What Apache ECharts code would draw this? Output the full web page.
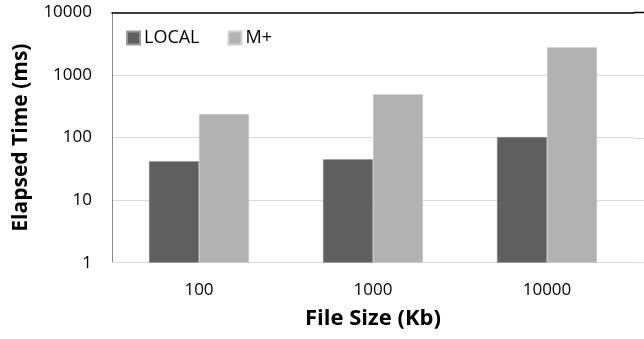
<!DOCTYPE html>
<html>
<head>
<meta charset="utf-8">
<script src="https://cdn.jsdelivr.net/npm/echarts@6/dist/echarts.min.js"></script>
<style>html,body{margin:0;padding:0;background:#fff}#c{width:644px;height:339px}</style>
</head>
<body>
<div id="c"></div>
<script>
var categories = ['100', '1000', '10000'];
var localValues = [42, 45, 102];
var mplusValues = [238, 492, 2780];
var seriesNames = ['LOCAL', 'M+'];
var yTicks = [1, 10, 100, 1000, 10000];

var FONT = '"Open Sans", "Liberation Sans", sans-serif';
var chart = echarts.init(document.getElementById('c'));
var grid = {left: 112, top: 12.5, right: 10, bottom: 76.3, containLabel: false, outerBoundsMode: 'none'};
chart.setOption({
  animation: false,
  backgroundColor: '#fff',
  textStyle: {fontFamily: FONT},
  grid: grid,
  legend: {
    left: 121, top: 24, itemWidth: 13, itemHeight: 13, itemGap: 28,
    icon: 'rect',
    textStyle: {fontFamily: FONT, fontSize: 18, color: '#000', padding: [0, 0, 0, -1]},
    data: seriesNames
  },
  xAxis: [{
    type: 'category', data: categories,
    axisLine: {lineStyle: {color: '#d9d9d9', width: 1}},
    axisTick: {show: false},
    axisLabel: {fontFamily: FONT, fontSize: 17, color: '#000', margin: 19},
    name: 'File Size (Kb)', nameLocation: 'middle', nameGap: 45,
    nameTextStyle: {fontFamily: FONT, fontSize: 22, fontWeight: 'bold', color: '#000'}
  }, {
    type: 'category', data: categories, position: 'top',
    axisLine: {lineStyle: {color: '#000', width: 1.5}},
    axisTick: {show: false}, axisLabel: {show: false}
  }],
  yAxis: {
    type: 'log', logBase: 10, min: yTicks[0], max: yTicks[yTicks.length - 1],
    axisLine: {show: true, lineStyle: {color: '#868686'}},
    axisTick: {show: false},
    splitLine: {lineStyle: {color: '#d9d9d9', width: 1}},
    axisLabel: {fontFamily: FONT, fontSize: 17, color: '#000', margin: 20,
      formatter: function (v) { return String(Math.round(v)); }},
    name: 'Elapsed Time (ms)', nameLocation: 'middle', nameGap: 80, nameRotate: 90,
    nameTextStyle: {fontFamily: FONT, fontSize: 21, fontWeight: 'bold', color: '#000'}
  },
  series: [{
    name: seriesNames[0], type: 'bar', data: localValues,
    barGap: '0%', barCategoryGap: '42.5%',
    itemStyle: {color: '#5f5f5f', borderColor: '#9a9a9a', borderWidth: 0.5}
  }, {
    name: seriesNames[1], type: 'bar', data: mplusValues,
    itemStyle: {color: '#b2b2b2', borderColor: '#d0d0d0', borderWidth: 0.5}
  }]
});
// extend the gridlines and top border to the right edge of the picture
var W = 644;
var x0 = W - grid.right;
var extra = [];
yTicks.slice(1, -1).forEach(function (v) {
  var y = Math.round(chart.convertToPixel({yAxisIndex: 0}, v)) + 0.5;
  extra.push({type: 'line', shape: {x1: x0, y1: y, x2: W, y2: y}, style: {stroke: '#d9d9d9', lineWidth: 1}, z: -1});
});
var yt = chart.convertToPixel({yAxisIndex: 0}, yTicks[yTicks.length - 1]);
extra.push({type: 'line', shape: {x1: x0, y1: yt, x2: W, y2: yt}, style: {stroke: '#000', lineWidth: 1.5}, z: -1});
var yb = chart.convertToPixel({yAxisIndex: 0}, yTicks[0]);
extra.push({type: 'line', shape: {x1: x0, y1: yb, x2: W, y2: yb}, style: {stroke: '#d9d9d9', lineWidth: 1}, z: -1});
chart.setOption({graphic: extra});
</script>
</body>
</html>
